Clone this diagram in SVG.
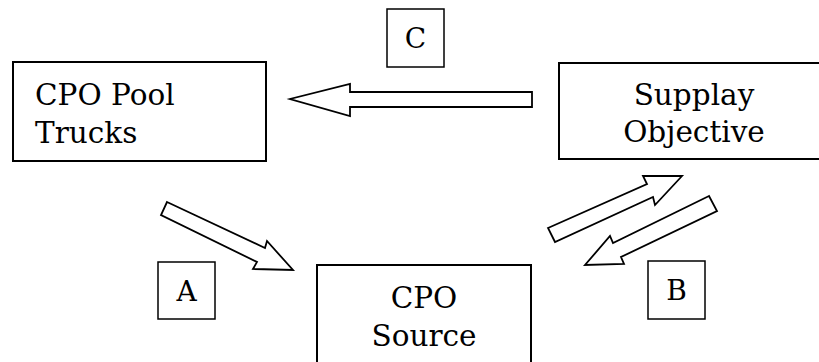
<svg xmlns="http://www.w3.org/2000/svg" width="819" height="362" viewBox="0 0 819 362">
  <style>
    .box { fill: #fff; stroke: #000; stroke-width: 2; }
    .tag { fill: #fff; stroke: #000; stroke-width: 1.5; }
    .arrow { fill: #fff; stroke: #000; stroke-width: 1.8; stroke-linejoin: miter; }
    .node-text { font-family: 'DejaVu Serif', serif; font-size: 29.5px; fill: #000; }
    .lbl { font-family: 'DejaVu Serif', serif; font-size: 28px; fill: #000; text-anchor: middle; }
  </style>
  <rect width="819" height="362" fill="#fff"/>

  <g id="connectors">
    <!-- C: from Supplay Objective to CPO Pool Trucks -->
    <polygon class="arrow" points="532,92 350,92 350,84 290,99 350,116 350,107 532,107"/>
    <!-- A: from CPO Pool Trucks to CPO Source -->
    <polygon class="arrow" points="167,202 265,248 267,241 293,270 253,269 257,262 161,215"/>
    <!-- B: CPO Source up to Supplay Objective -->
    <polygon class="arrow" points="548,228 647,184 643,176 682,176 655,205 653,197 555,242"/>
    <!-- B: Supplay Objective down to CPO Source -->
    <polygon class="arrow" points="709,196 613,243 610,236 585,265 624,264 621,257 717,211"/>
  </g>

  <g id="node-pool-trucks">
    <rect class="box" x="13" y="62" width="253" height="99"/>
    <text class="node-text" x="35" y="105">CPO Pool</text>
    <text class="node-text" x="35" y="143">Trucks</text>
  </g>

  <g id="node-supplay-objective">
    <rect class="box" x="559" y="63" width="270" height="96"/>
    <text class="node-text" x="694" y="105" text-anchor="middle">Supplay</text>
    <text class="node-text" x="694" y="142" text-anchor="middle">Objective</text>
  </g>

  <g id="node-cpo-source">
    <rect class="box" x="317" y="265" width="214" height="110"/>
    <text class="node-text" x="424" y="308" text-anchor="middle">CPO</text>
    <text class="node-text" x="424" y="346" text-anchor="middle">Source</text>
  </g>

  <g id="label-a">
    <rect class="tag" x="158" y="262" width="57" height="57"/>
    <text class="lbl" x="186.5" y="301">A</text>
  </g>

  <g id="label-b">
    <rect class="tag" x="648" y="261" width="57" height="58"/>
    <text class="lbl" x="676.5" y="300">B</text>
  </g>

  <g id="label-c">
    <rect class="tag" x="387" y="9" width="57" height="58"/>
    <text class="lbl" x="415.5" y="48">C</text>
  </g>
</svg>
